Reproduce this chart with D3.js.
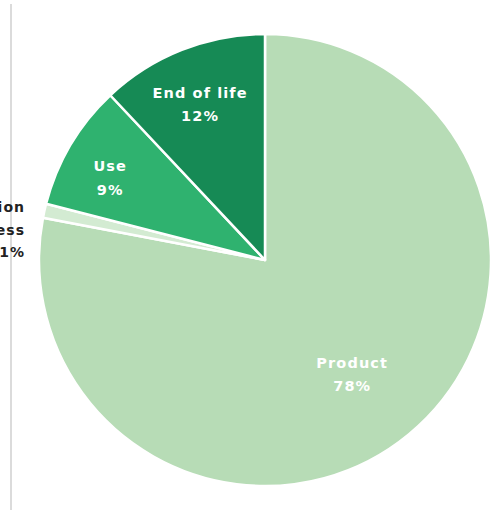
<!DOCTYPE html>
<html>
<head>
<meta charset="utf-8">
<script src="https://cdn.jsdelivr.net/npm/d3@7"></script>
<style>
  html, body { margin: 0; padding: 0; background: #fff; }
  svg { display: block; }
</style>
</head>
<body>
<svg id="chart" width="500" height="516"></svg>
<script>
// Life-cycle phases and their share of the total
const phases = ["Product", "Distribution process", "Use", "End of life"];
const shares = [78, 1, 9, 12];
const shareLabels = ["78%", "1%", "9%", "12%"];

const phaseColors = {
  "Product": "#b7dcb6",
  "Distribution process": "#d3ebd2",
  "Use": "#2fb26f",
  "End of life": "#168a55"
};

// Where each label sits: fraction of radius along the slice mid-angle, plus nudge
const labelPlacement = {
  "Product": { r: 0.64, dx: -5, dy: -1 },
  "Use": { r: 0.78, dx: -3, dy: 4 },
  "End of life": { r: 0.72, dx: -5, dy: -8 }
};

const svg = d3.select("#chart");
const cx = 265, cy = 260, radius = 226;

// Thin divider rule at the left
svg.append("line")
  .attr("x1", 11).attr("x2", 11)
  .attr("y1", 4).attr("y2", 510)
  .attr("stroke", "#cfcfcf")
  .attr("stroke-width", 1.5);

const data = phases.map((p, i) => ({ phase: p, value: shares[i], label: shareLabels[i] }));

const pie = d3.pie().value(d => d.value).sort(null);
const arc = d3.arc().innerRadius(0).outerRadius(radius);
const arcs = pie(data);

const g = svg.append("g").attr("transform", `translate(${cx},${cy})`);

g.selectAll("path.slice")
  .data(arcs)
  .join("path")
  .attr("class", "slice")
  .attr("d", arc)
  .attr("fill", d => phaseColors[d.data.phase])
  .attr("stroke", "#ffffff")
  .attr("stroke-width", 2.5)
  .attr("stroke-linejoin", "round");

const fontFamily = "'DejaVu Sans', sans-serif";

// In-slice labels
arcs.filter(d => labelPlacement[d.data.phase]).forEach(d => {
  const lp = labelPlacement[d.data.phase];
  const mid = (d.startAngle + d.endAngle) / 2;
  const r = radius * lp.r;
  const x = Math.sin(mid) * r + lp.dx;
  const y = -Math.cos(mid) * r + lp.dy;
  const t = g.append("text")
    .attr("x", x).attr("y", y)
    .attr("text-anchor", "middle")
    .attr("fill", "#ffffff")
    .attr("font-family", fontFamily)
    .attr("font-weight", "bold")
    .attr("font-size", 14.5)
    .attr("letter-spacing", 1.1);
  t.append("tspan").attr("x", x).attr("dy", "-0.2em").text(d.data.phase);
  t.append("tspan").attr("x", x).attr("dy", "1.6em").text(d.data.label);
});

// Outside label for the small slice, right-aligned near the left rule
const small = arcs.find(d => d.data.phase === "Distribution process");
const words = small.data.phase.split(" ");
const outside = svg.append("text")
  .attr("text-anchor", "end")
  .attr("fill", "#222222")
  .attr("font-family", fontFamily)
  .attr("font-weight", "bold")
  .attr("font-size", 14)
  .attr("letter-spacing", 1);
[...words, small.data.label].forEach((w, i) => {
  outside.append("tspan")
    .attr("x", 25)
    .attr("y", 212 + i * 22.5)
    .text(w);
});
</script>
</body>
</html>
